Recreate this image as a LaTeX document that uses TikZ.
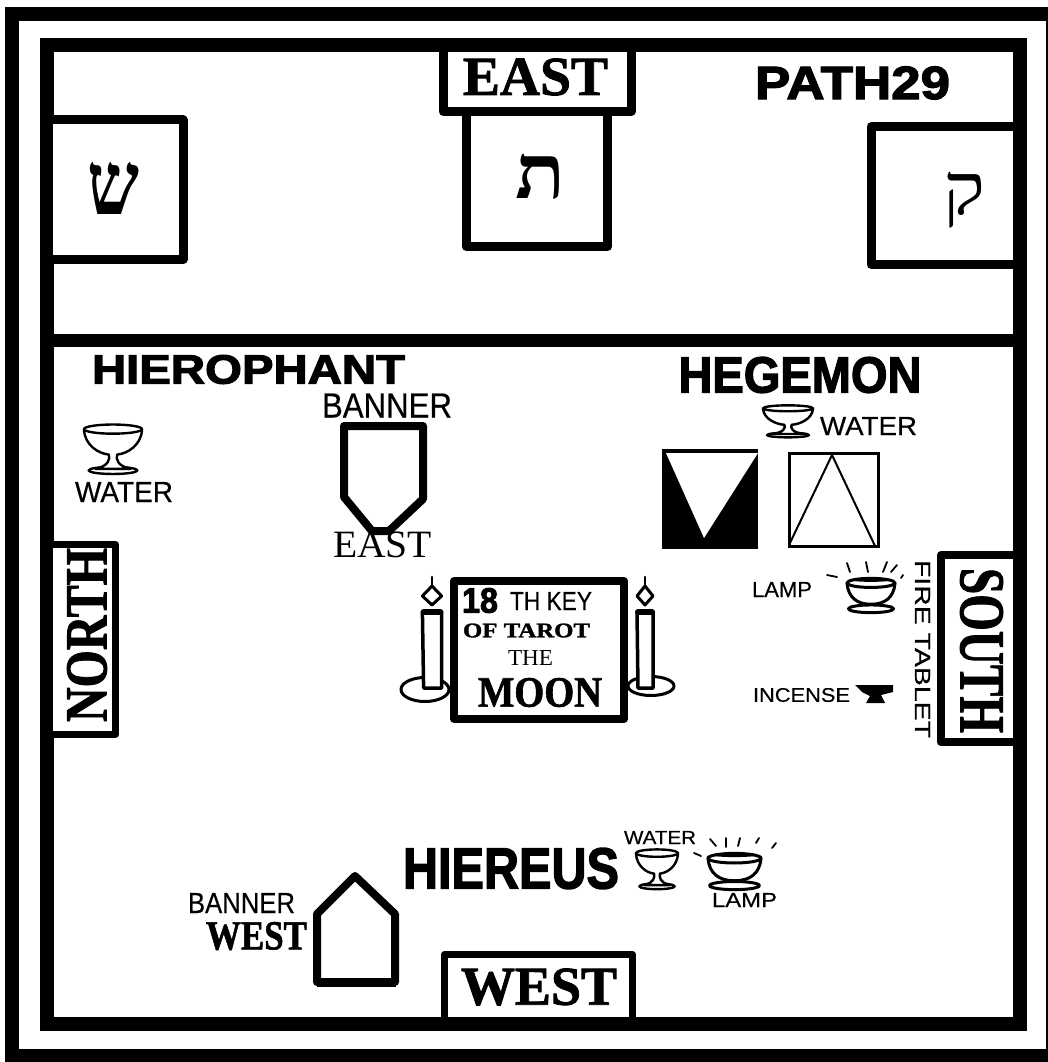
\documentclass[tikz,border=0pt]{standalone}
\usepackage{fontspec}
\setmainfont{Liberation Serif}
\setsansfont{Liberation Sans}
\newfontfamily\hebserif[Script=Hebrew]{Liberation Serif}
\newfontfamily\heavyf[FakeBold=2.5]{Liberation Sans Bold}
\newfontfamily\heavys[FakeBold=1.5]{Liberation Serif Bold}
\newfontfamily\handf[FakeBold=.4]{Liberation Sans}
\newcommand{\fitbox}[3]{\resizebox*{#1pt}{#2pt}{#3}}
\tikzset{
  frame/.style={draw=black,line width=14pt,line join=miter},
  roombox/.style={draw=black,fill=white,line width=9pt,line join=round},
  label/.style={inner sep=0pt,outer sep=0pt,text=black},
  ink/.style={draw=black,line width=2.4pt,line cap=round,line join=round},
  banner/.style={draw=black,fill=white,line width=8pt,line join=round},
  ray/.style={draw=black,line width=1.8pt,line cap=round},
  cup/.pic={
    \draw[ink,fill=white] (.5,.91) ellipse [x radius=.42,y radius=.07];
    \draw[ink,fill=white] (0,.12) .. controls (.02,.42) and (.25,.58) .. (.43,.6) .. controls (.45,.7) and (.42,.82) .. (.2,.88) -- (.8,.88) .. controls (.58,.82) and (.55,.7) .. (.57,.6) .. controls (.75,.58) and (.98,.42) .. (1,.12) -- cycle;
    \draw[ink,fill=white] (.5,.1) ellipse [x radius=.5,y radius=.09];
  },
  lamp/.pic={
    \draw[ink,fill=white,line width=3pt] (.5,.88) ellipse [x radius=.47,y radius=.11];
    \draw[ink,fill=white,line width=3pt] (0,.16) .. controls (.03,.55) and (.2,.75) .. (.5,.75) .. controls (.8,.75) and (.97,.55) .. (1,.16) -- cycle;
    \draw[ink,fill=white,line width=3pt] (.5,.14) ellipse [x radius=.5,y radius=.13];
    \fill[black] (.5,.06) ellipse [x radius=.42,y radius=.05];
  },
  candle/.pic={
    \draw[ink,fill=white,line width=3.5pt] (-8,-78) -- (-7,-2) -- (8,-2) -- (8,-78);
    \draw[black,line width=6pt,line cap=round] (-7,-78) -- (7,-78);
    \draw[ink,fill=white,line width=3pt] (0,-104) -- (8,-94) -- (0,-85) -- (-8,-94) -- cycle;
    \draw[ink] (0,-113) -- (0,-104);
  }
}
\begin{document}
\begin{tikzpicture}[x=1pt,y=-1pt]
\useasboundingbox (0,0) rectangle (1048,1062);
\fill[white] (0,0) rectangle (1048,1062);
% outer and inner frames
\draw[frame] (1056,14.5) -- (12,14.5) -- (12,1056) -- (1056,1056);
\draw[black,line width=3pt] (1047,7) -- (1047,1062);
\draw[frame] (46.5,45) rectangle (1020,1023.5);
\draw[frame,line width=13pt] (46.5,340.5) -- (1020,340.5);
% three rooms above
\draw[roombox] (53,120) -- (183,120) -- (183,259.5) -- (53,259.5);
\draw[roombox] (466,116) -- (466,246.5) -- (607.5,246.5) -- (607.5,116);
\draw[roombox] (1013,126.5) -- (871,126.5) -- (871,264.5) -- (1013,264.5);
\draw[roombox] (443,52) -- (443,111.5) -- (631,111.5) -- (631,52);
\node[label] (east) at (535.5,77) {\fitbox{145}{37}{\heavys EAST}};
\node[label] (path) at (852.5,83) {\fitbox{195}{33}{\heavyf PATH29}};
\node[label] (shin) at (114,188) {\fitbox{52}{52}{\hebserif\bfseries ש}};
\node[label] (tav) at (540.5,177) {\fitbox{50}{45}{\hebserif\bfseries ת}};
\node[label] (qoph) at (964,200) {\fitbox{42}{56}{\hebserif ק}};
% north and south
\draw[roombox,line width=7pt] (53,544.5) -- (115.5,544.5) -- (115.5,734.5) -- (53,734.5);
\node[label,rotate=90] (north) at (87,635) {\fitbox{174}{40}{\heavys NORTH}};
\draw[roombox,line width=8pt] (1013,555) -- (941,555) -- (941,742) -- (1013,742);
\node[label,rotate=-90] (south) at (981.5,650.5) {\fitbox{165}{43}{\heavys SOUTH}};
\node[label,rotate=-90] (fire) at (922.5,649) {\fitbox{178}{15}{\handf FIRE TABLET}};
% officers
\node[label] (hiero) at (248.5,369.5) {\fitbox{313}{29}{\heavyf HIEROPHANT}};
\node[label] (hege) at (800,375) {\fitbox{243}{36}{\heavyf HEGEMON}};
\node[label] (hier) at (511,868.5) {\fitbox{216}{41}{\heavyf HIEREUS}};
% east banner
\draw[banner] (344,426) -- (423,426) -- (423,499) -- (389,531) -- (372,531) -- (344,497) -- cycle;
\node[label] (bannerE) at (387,405.5) {\fitbox{130}{24}{\handf BANNER}};
\node[label] (eastS) at (382.5,545) {\fitbox{99}{26}{\rmfamily EAST}};
% west banner
\draw[banner] (317,914) -- (355,876) -- (395,914) -- (395,982) -- (317,982) -- cycle;
\draw[black,line width=5pt] (317,984) -- (396,984);
\node[label] (bannerW) at (241.5,903) {\fitbox{107}{20}{\handf BANNER}};
\node[label] (westS) at (256.5,936) {\fitbox{101}{28}{\heavys WEST}};
% west box
\draw[roombox,line width=7pt] (444.5,1017) -- (444.5,954.5) -- (632.5,954.5) -- (632.5,1017);
\node[label] (west) at (539,987) {\fitbox{156}{37}{\heavys WEST}};
% water cups
\pic[xscale=58,yscale=51] at (84,424) {cup};
\node[label] (waterN) at (124,492) {\fitbox{98}{20}{\handf WATER}};
\pic[xscale=50,yscale=33] at (763,405) {cup};
\node[label] (waterS) at (868.5,426) {\fitbox{97}{18}{\handf WATER}};
\pic[xscale=42,yscale=41] at (636,849) {cup};
\node[label] (waterW) at (660,837.5) {\fitbox{72}{13}{\handf WATER}};
% tablets of Hegemon
\fill[black] (662,449) rectangle (758,549);
\fill[white] (666,453) -- (758,453) -- (704,538) -- cycle;
\draw[black,line width=3pt] (789,453.5) rectangle (878,546.5);
\draw[black,line width=2pt] (789,545) -- (832,455) -- (875,546);
% lamps
\pic[xscale=48,yscale=35] at (847,578) {lamp};
\foreach \a/\b/\c/\d in {827/575/837/577,847/563/850/572,866/562/868/572,887/562/883/572,897/565/891/572,903/575/901/578}
  \draw[ray] (\a,\b) -- (\c,\d);
\node[label] (lampS) at (782,589.5) {\fitbox{60}{15}{\handf LAMP}};
\pic[xscale=53,yscale=37] at (708,853) {lamp};
\foreach \a/\b/\c/\d in {694/853/701/856,710/839/716/846,726/838/726/847,740/838/738/846,759/838/756/843,776/843/772/848}
  \draw[ray] (\a,\b) -- (\c,\d);
\node[label] (lampW) at (744.5,900) {\fitbox{65}{14}{\handf LAMP}};
% incense
\fill[black] (855,685) -- (893,685) -- (893,692) -- (881,695) -- (885,703) -- (866,703) -- (870,696) -- (862,692) -- cycle;
\node[label] (incense) at (801.5,695) {\fitbox{97}{14}{\handf INCENSE}};
% candles and key
\draw[ink,fill=white,line width=3pt] (425,689.5) ellipse [x radius=24,y radius=12];
\draw[ink,fill=white,line width=3pt] (651,686) ellipse [x radius=23,y radius=9.5];
\pic[xscale=1.2] at (432,690) {candle};
\pic at (645,690) {candle};
\draw[roombox,line width=8pt] (454,581) rectangle (624,719);
\node[label] (eighteen) at (480,600.5) {\fitbox{36}{25}{\heavyf 18}};
\node[label] (thkey) at (551,601) {\fitbox{82}{18}{\handf TH KEY}};
\node[label] (tarot) at (526.5,630.5) {\fitbox{127}{14}{\heavys OF TAROT}};
\node[label] (the) at (530.5,657.5) {\fitbox{45}{15}{\rmfamily THE}};
\node[label] (moon) at (540,692.5) {\fitbox{124}{29}{\heavys MOON}};
\end{tikzpicture}
\end{document}
